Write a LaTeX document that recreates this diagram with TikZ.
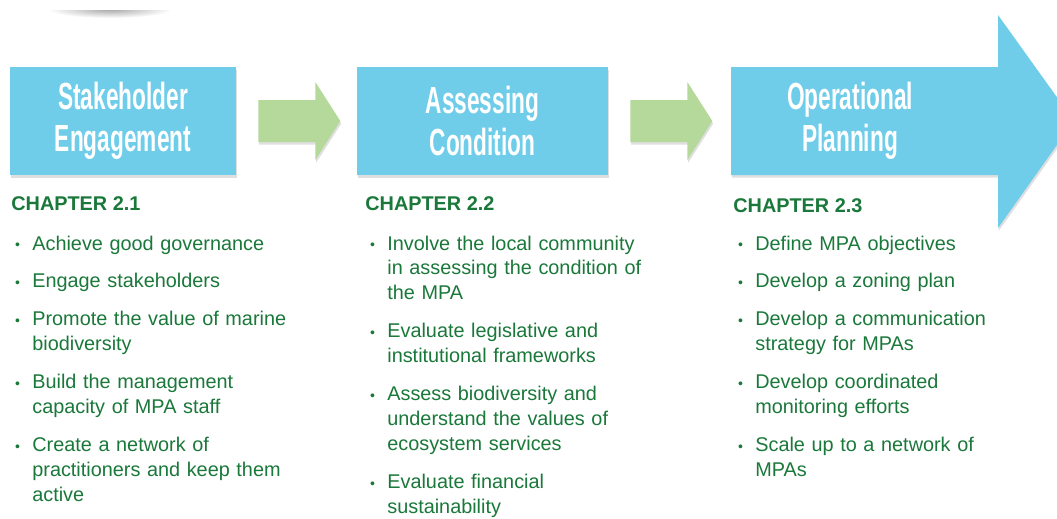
\documentclass[tikz,border=0pt]{standalone}
\usepackage{fontspec}
\setmainfont{Liberation Sans}
\usepackage{graphicx}
\usepackage{tikz}
\usetikzlibrary{positioning, calc, shadows}
\definecolor{stageblue}{RGB}{111,205,234}
\definecolor{flowgreen}{RGB}{181,217,154}
\definecolor{chaptergreen}{RGB}{26,120,58}
\newcommand{\cond}[1]{\scalebox{0.6}[1]{#1}}
\newcommand{\bul}{\leavevmode\llap{\makebox[9.8pt][l]{\raisebox{0.3pt}{\footnotesize\textbullet}}}}
\tikzset{
  stagebox/.style={rectangle, fill=stageblue, minimum height=2.16cm, inner sep=0pt,
    drop shadow={opacity=0.25, shadow xshift=0.5pt, shadow yshift=-1.5pt}},
  stagetitle/.style={text=white, align=center, font=\bfseries\fontsize{21.5}{24}\selectfont},
  chapter/.style={anchor=base west, inner sep=0pt, text=chaptergreen, font=\bfseries\fontsize{11.3}{14.2}\selectfont},
  itemlist/.style={anchor=base west, inner sep=0pt, text width=6cm, align=left, text=chaptergreen,
    font=\fontsize{11.3}{14.2}\selectfont},
  flow/.style={fill=flowgreen, drop shadow={opacity=0.25, shadow xshift=0.5pt, shadow yshift=-1.5pt}}
}
\begin{document}
\begin{tikzpicture}[x=0.02cm, y=-0.02cm]
\clip (0,0) rectangle (1057,518);
\fill[white] (0,0) rectangle (1057,518);
% soft shadow at the top
\begin{scope}
  \clip (30,10) rectangle (200,25);
  \shade[inner color=gray!70, outer color=white] (110,9) ellipse (62 and 9);
\end{scope}

% Stages
\node (stake) [stagebox, stagetitle, minimum width=4.52cm] at (123,121) {\cond{Stakeholder}\\\cond{Engagement}};
\node (assess) [stagebox, stagetitle, minimum width=5.02cm] at (482.5,121) {\cond{Assessing}\\\cond{Condition}};
\fill[stageblue, drop shadow={opacity=0.25, shadow xshift=0.5pt, shadow yshift=-1.5pt}]
  (731,67) -- (998,67) -- (998,15) -- (1074,121) -- (998,228) -- (998,175) -- (731,175) -- cycle;
\node (plan) [stagetitle] at (850,121) {\cond{Operational}\\\cond{Planning}};

% Arrows
\fill[flow] ($(stake.east)+(22,-21)$) -- ++(57,0) -- ++(0,-18) -- ++(25,39) -- ++(-25,39) -- ++(0,-18) -- ++(-57,0) -- cycle;
\fill[flow] ($(assess.east)+(22,-21)$) -- ++(57,0) -- ++(0,-18) -- ++(25,39) -- ++(-25,39) -- ++(0,-18) -- ++(-57,0) -- cycle;

% Chapters
\node (ch1) [chapter] at (11,210) {CHAPTER 2.1};
\node (ch2) [chapter] at (365,210) {CHAPTER 2.2};
\node (ch3) [chapter] at (733,212) {CHAPTER 2.3};

\node (list1) [itemlist] at (32,250) {%
\bul Achieve good governance\\[7.4pt]
\bul Engage stakeholders\\[7.4pt]
\bul Promote the value of marine\\ biodiversity\\[7.4pt]
\bul Build the management\\ capacity of MPA staff\\[7.4pt]
\bul Create a network of\\ practitioners and keep them\\ active};
\node (list2) [itemlist] at (387,250) {%
\bul Involve the local community\\ in assessing the condition of\\ the MPA\\[7.4pt]
\bul Evaluate legislative and\\ institutional frameworks\\[7.4pt]
\bul Assess biodiversity and\\ understand the values of\\ ecosystem services\\[7.4pt]
\bul Evaluate financial\\ sustainability};
\node (list3) [itemlist] at (755,250) {%
\bul Define MPA objectives\\[7.4pt]
\bul Develop a zoning plan\\[7.4pt]
\bul Develop a communication\\ strategy for MPAs\\[7.4pt]
\bul Develop coordinated\\ monitoring efforts\\[7.4pt]
\bul Scale up to a network of\\ MPAs};
\end{tikzpicture}
\end{document}
